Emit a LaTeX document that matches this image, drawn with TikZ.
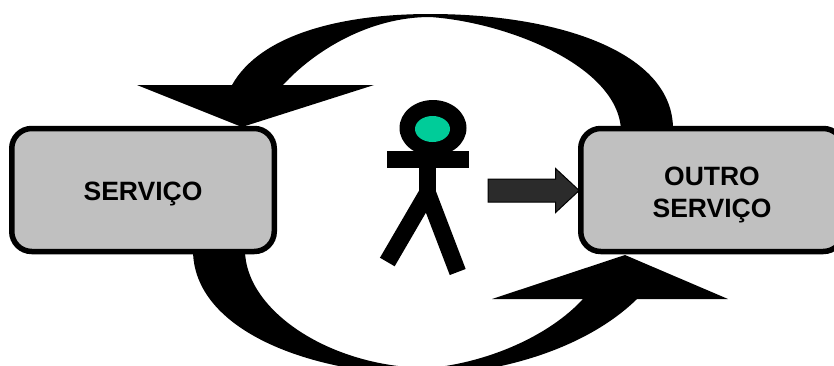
\documentclass[tikz,border=0pt]{standalone}
\usepackage{fontspec}
\setmainfont{Liberation Sans}
\usepackage{xcolor}
\usetikzlibrary{shapes.arrows}
\definecolor{boxgray}{HTML}{C0C0C0}
\definecolor{facegreen}{HTML}{00CC99}
\definecolor{arrowgray}{HTML}{2B2B2B}
\tikzset{
    servicebox/.style={draw=black, fill=boxgray, line width=5.5pt, rounded corners=20pt, minimum width=262.5pt, minimum height=123pt, inner sep=0pt, align=center, font=\fontsize{26.5}{32}\selectfont\bfseries},
    swoosh/.style={fill=black},
    limb/.style={draw=black, line width=17pt, line join=miter}
}

\begin{document}
\begin{tikzpicture}[x=1pt, y=-1pt]
    \useasboundingbox (0,0) rectangle (834,365);
    \clip (0,0) rectangle (834,365);
    \fill[swoosh] (137,85) -- (242,127) -- (374,85) -- (283,85)
        .. controls (315,50) and (370,17) .. (430,17)
        .. controls (505,22) and (618,65) .. (621,130)
        -- (673,130)
        .. controls (674,52) and (558,14) .. (430,14)
        .. controls (340,14) and (260,35) .. (232,85) -- cycle;
    \fill[swoosh] (728,299) -- (625,255) -- (492,299) -- (583,299)
        .. controls (550,335) and (490,362) .. (430,368)
        .. controls (330,368) and (245,310) .. (245,250)
        -- (193,250)
        .. controls (193,330) and (310,375) .. (430,375)
        .. controls (510,372) and (590,345) .. (637,299) -- cycle;
    \node[servicebox] (servico) at (143,190) {\rule{0pt}{27pt}SERVIÇO};
    \node[servicebox] (outro) at (712,190) {\rule{0pt}{29pt}OUTRO\\SERVIÇO};
    \fill[black] (433,128) ellipse (33.5 and 28);
    \fill[facegreen] (432.5,129) ellipse (17.5 and 13);
    \draw[limb] (387,159.5) -- (469,159.5);
    \draw[limb] (427.5,168) -- (427.5,195);
    \draw[limb] (387.3,262) -- (427.5,193) -- (457.7,272);
    \node[single arrow, draw=black, fill=arrowgray, line width=1pt, inner sep=0pt, text height=22pt, text depth=0pt, minimum height=91pt, single arrow head extend=10.5pt, single arrow tip angle=86, single arrow head indent=0pt] (seta) at (527.5,190.5) {};
\end{tikzpicture}
\end{document}
